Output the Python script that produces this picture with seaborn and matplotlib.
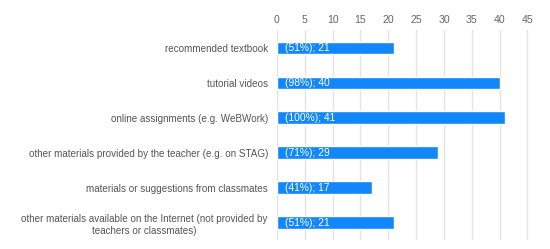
import pandas as pd
import seaborn as sns
import matplotlib.pyplot as plt
import numpy as np

categories = [
    "recommended textbook",
    "tutorial videos",
    "online assignments (e.g. WeBWork)",
    "other materials provided by the teacher (e.g. on STAG)",
    "materials or suggestions from classmates",
    "other materials available on the Internet (not provided by\nteachers or classmates)",
]
counts = [21, 40, 41, 29, 17, 21]
percents = [51, 98, 100, 71, 41, 51]
xticks = list(range(0, 50, 5))

sns.set_style("white")
plt.rcParams['font.family'] = ['Liberation Sans', 'DejaVu Sans']

df = pd.DataFrame({"cat": categories, "count": counts, "pct": percents})

fig = plt.figure(figsize=(5.5, 2.49), dpi=100)
ax = fig.add_axes([0.5036, 0.036, 0.4584, 0.842])

sns.barplot(data=df, x="count", y="cat", color="#1187fb", saturation=1,
            width=0.36, ax=ax, zorder=3)

# labels inside the bars
for i, (c, p) in enumerate(zip(counts, percents)):
    ax.text(1.4, i, f"({p}%); {c}", color="white", fontsize=7.4,
            va="center", ha="left", zorder=4)

ax.set_xlim(0, 45.3)
ax.set_ylim(5.5, -0.5)
ax.set_xticks(xticks)
ax.xaxis.tick_top()
ax.tick_params(axis="x", length=0, labelsize=7.6, colors="#666666", pad=4)
ax.tick_params(axis="y", length=0, labelsize=7.1, colors="#555555", pad=6.5)
ax.grid(axis="x", color="#e4e4e4", linewidth=1, zorder=0)
for lab in ax.get_yticklabels():
    lab.set_multialignment("center")
    lab.set_linespacing(1.35)
ax.set_xlabel("")
ax.set_ylabel("")
sns.despine(ax=ax, left=True, bottom=True, top=True, right=True)

fig.savefig("out.png", dpi=100)
